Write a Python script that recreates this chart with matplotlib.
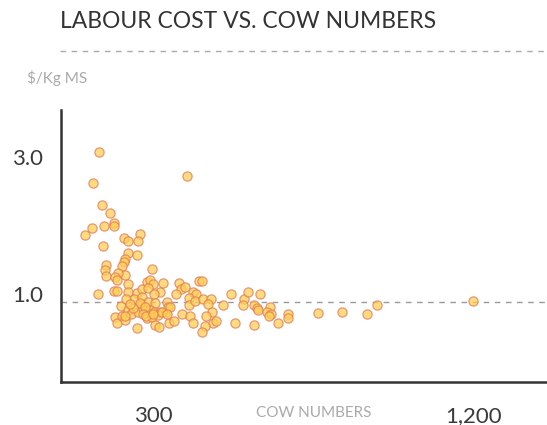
import matplotlib
matplotlib.use("Agg")
import matplotlib.pyplot as plt

# herd size vs labour cost ($/kg milk solids)
cows = [149, 132, 157, 179, 190, 191, 162, 129, 108, 396,
        264, 219, 231, 259, 159, 231, 256, 222, 219, 213,
        168, 165, 168, 298, 221, 202, 193, 198, 231, 146,
        190, 199, 231, 254, 269, 282, 292, 301, 285, 320,
        304, 328, 373, 378, 365, 391, 429, 439, 413, 421,
        401, 401, 418, 440, 463, 456, 520, 555, 553, 566,
        601, 584, 592, 498, 210, 231, 193, 198, 213, 220,
        239, 254, 247, 223, 268, 268, 287, 306, 339, 259,
        273, 292, 304, 320, 337, 341, 221, 282, 296, 315,
        307, 318, 346, 360, 348, 381, 403, 413, 465, 448,
        469, 477, 446, 437, 531, 584, 596, 629, 621, 631,
        627, 652, 680, 679, 765, 831, 903, 929, 1200,
        263, 278, 271, 280, 301, 324, 340, 244, 235]
cost = [3.19, 2.73, 2.42, 2.30, 2.16, 2.11, 2.11, 2.08, 1.98, 2.84,
        1.99, 1.94, 1.89, 1.89, 1.82, 1.72, 1.69, 1.63, 1.59, 1.53,
        1.54, 1.46, 1.38, 1.48, 1.39, 1.42, 1.36, 1.32, 1.26, 1.12,
        1.16, 1.16, 1.14, 1.13, 1.19, 1.29, 1.32, 1.27, 1.20, 1.14,
        1.11, 1.28, 1.28, 1.19, 1.12, 1.22, 1.30, 1.30, 1.15, 1.11,
        1.06, 0.96, 1.01, 1.04, 1.05, 0.97, 1.12, 1.04, 0.96, 1.15,
        1.11, 0.96, 0.91, 0.96, 0.94, 0.89, 0.78, 0.70, 0.80, 0.73,
        0.82, 0.62, 1.04, 1.04, 1.07, 0.96, 1.00, 0.99, 1.00, 0.85,
        0.90, 0.88, 0.85, 0.85, 0.85, 0.93, 0.80, 0.76, 0.78, 0.81,
        0.66, 0.63, 0.70, 0.72, 0.93, 0.82, 0.80, 0.70, 0.85, 0.80,
        0.70, 0.72, 0.65, 0.56, 0.69, 0.66, 0.88, 0.92, 0.86, 0.82,
        0.80, 0.70, 0.82, 0.76, 0.84, 0.85, 0.82, 0.96, 1.01,
        0.98, 0.93, 0.83, 0.79, 0.83, 0.86, 0.82, 0.91, 0.97]

x_ticks = [300, 1200]
x_tick_labels = ["300", "1,200"]
y_ticks = [1.0, 3.0]
y_tick_labels = ["1.0", "3.0"]
ref_line = 1.0

plt.rcParams['font.family'] = ['Lato', 'DejaVu Sans']

fig = plt.figure(figsize=(5.47, 4.25), dpi=100)
ax = fig.add_axes([61/547, 43/425, 486/547, 272/425])

ax.axhline(ref_line, color="#999999", lw=1, dashes=(4, 4), zorder=1)
ax.scatter(cows, cost, s=44, facecolor="#FFCF55", edgecolor="#E07A58",
           linewidths=0.9, alpha=0.75, zorder=3)

ax.set_xlim(41.3, 1408)
ax.set_ylim(-0.168, 3.803)

for side in ["top", "right"]:
    ax.spines[side].set_visible(False)
for side in ["left", "bottom"]:
    ax.spines[side].set_color("#333333")
    ax.spines[side].set_linewidth(1.8)

ax.set_xticks(x_ticks)
ax.set_xticklabels(x_tick_labels)
ax.set_yticks(y_ticks)
ax.set_yticklabels(y_tick_labels)
ax.tick_params(axis="both", length=0, labelsize=16, labelcolor="#3a3a3a")
ax.tick_params(axis="x", pad=17)
ax.tick_params(axis="y", pad=13)
for lab in ax.get_yticklabels():
    lab.set_va("baseline")

fig.text(314/547, 1 - 413/425, "COW NUMBERS", ha="center", va="center",
         fontsize=11, color="#aaaaaa")
fig.text(27/547, 1 - 78/425, "\\$/Kg MS", ha="left", va="center",
         fontsize=11, color="#aaaaaa")
fig.text(60/547, 1 - 22/425, "LABOUR COST VS. COW NUMBERS", ha="left",
         va="center", fontsize=16.5, color="#333333")
fig.add_artist(plt.Line2D([60/547, 1], [1 - 51/425, 1 - 51/425],
                          color="#aaaaaa", lw=1, dashes=(4, 4)))

fig.savefig("out.png", dpi=100)
